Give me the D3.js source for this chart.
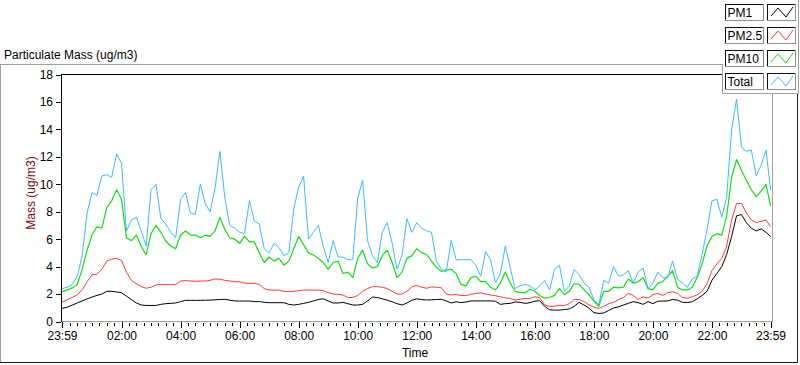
<!DOCTYPE html>
<html><head><meta charset="utf-8">
<script src="https://cdn.jsdelivr.net/npm/d3@7/dist/d3.min.js"></script>
<style>body{margin:0;background:#fff}svg{display:block;font-family:"Liberation Sans",Arial,sans-serif}</style>
</head><body><svg id="c" width="800" height="365"></svg>
<script>
// minutes after midnight (-1 = 23:59 previous day)
const times = [-1,10,20,30,40,50,60,70,80,90,100,110,120,130,140,150,160,170,180,190,200,210,220,230,240,250,260,270,280,290,300,310,320,330,340,350,
360,370,380,390,400,410,420,430,440,450,460,470,480,490,500,510,520,530,540,550,560,570,580,590,600,610,620,630,640,650,660,670,680,690,700,
710,720,730,740,750,760,770,780,790,800,810,820,830,840,850,860,870,880,890,900,910,920,930,940,950,960,970,980,990,1000,1010,1020,1030,1040,1050,1060,1070,
1080,1090,1100,1110,1120,1130,1140,1150,1160,1170,1180,1190,1200,1210,1220,1230,1240,1250,1260,1270,1280,1290,1300,1310,1320,1330,1340,1350,1360,1370,1380,1390,1400,1410,1420,1430,1439];

const pm1 = [0.95,1.05,1.2,1.35,1.5,1.65,1.78,1.9,2.0,2.2,2.2,2.15,2.1,1.85,1.6,1.35,1.2,1.17,1.17,1.17,1.25,1.3,1.32,1.35,1.45,1.54,1.54,1.54,1.54,1.55,1.56,1.58,1.6,1.62,1.55,1.5,
1.49,1.49,1.49,1.45,1.45,1.4,1.37,1.37,1.37,1.37,1.25,1.2,1.25,1.32,1.4,1.5,1.6,1.66,1.5,1.35,1.35,1.39,1.3,1.2,1.2,1.25,1.5,1.78,1.75,1.65,1.55,1.44,1.3,1.2,1.35,
1.55,1.65,1.6,1.57,1.58,1.6,1.62,1.5,1.35,1.44,1.38,1.42,1.5,1.5,1.5,1.5,1.5,1.48,1.25,1.3,1.32,1.42,1.4,1.32,1.37,1.48,1.52,1.1,0.85,0.83,0.83,0.87,0.92,1.1,1.4,1.2,0.98,
0.65,0.59,0.62,0.8,0.98,1.07,1.2,1.32,1.45,1.37,1.25,1.45,1.3,1.48,1.49,1.5,1.6,1.56,1.4,1.38,1.44,1.65,1.9,2.2,3.0,3.5,4.0,4.9,6.2,7.7,7.8,7.2,6.8,6.6,6.75,6.5,6.2];

const pm25 = [1.41,1.6,1.75,1.95,2.3,2.9,3.4,3.44,3.8,4.4,4.55,4.6,4.45,3.6,3.0,2.75,2.55,2.42,2.5,2.66,2.7,2.7,2.68,2.7,2.95,2.98,2.95,2.93,2.95,2.95,3.0,3.1,3.08,3.0,2.95,2.9,
2.9,2.8,2.78,2.78,2.7,2.4,2.29,2.29,2.29,2.2,2.17,2.2,2.25,2.29,2.29,2.29,2.29,2.25,2.1,2.0,1.98,1.93,1.75,1.75,1.9,2.2,2.4,2.54,2.54,2.5,2.4,2.2,2.0,2.0,2.2,
2.52,2.64,2.5,2.42,2.52,2.5,2.46,2.0,1.93,1.98,1.9,1.88,1.98,2.05,2.08,2.0,1.93,1.88,1.8,1.72,1.68,1.56,1.62,1.68,1.68,1.8,1.75,1.2,1.1,1.12,1.18,1.15,1.3,1.6,1.6,1.45,1.22,
1.05,0.95,1.1,1.3,1.4,1.6,1.75,2.05,1.9,1.6,1.8,1.7,1.95,2.05,1.9,2.1,2.17,2.05,1.75,1.7,1.8,1.95,2.2,2.75,3.7,4.2,4.6,5.5,7.4,8.6,8.6,7.9,7.4,7.2,7.3,7.4,6.9];

const pm10 = [2.17,2.3,2.45,2.7,3.8,5.2,6.3,6.9,6.8,8.3,8.8,9.6,8.9,6.1,5.9,6.3,5.5,4.85,6.4,7.0,6.5,5.85,5.5,5.3,6.3,6.6,6.3,6.3,6.1,6.3,6.2,6.6,7.6,6.7,6.1,6.0,
5.7,6.2,5.8,5.8,5.0,4.3,4.7,4.4,4.6,4.1,4.4,5.3,6.2,5.6,5.0,4.85,4.6,4.3,3.8,4.3,4.4,3.5,3.6,3.2,4.6,5.2,4.2,3.9,4.0,4.8,5.2,4.3,3.2,3.6,4.6,
4.8,5.3,5.0,4.9,4.4,3.95,3.65,3.76,3.8,3.5,2.7,2.6,3.2,3.3,2.9,2.9,2.5,2.3,2.8,3.6,2.8,2.2,2.1,2.1,2.35,2.2,1.9,1.7,1.75,1.9,2.4,1.95,2.2,2.75,2.7,2.3,1.95,
1.5,1.1,2.2,2.2,2.5,2.45,2.5,3.1,2.8,2.9,3.2,2.4,2.3,2.8,2.9,3.3,3.7,2.5,2.3,2.3,2.5,3.2,4.2,5.5,6.2,6.4,6.3,7.7,10.5,11.8,11.0,10.3,9.6,9.1,9.5,10.0,8.4];

const total = [2.4,2.5,2.7,3.3,4.8,7.9,9.4,9.2,10.6,10.7,10.5,12.2,11.5,6.6,7.4,7.6,6.6,5.5,9.6,10.0,7.5,7.1,6.5,6.1,8.9,9.4,7.9,7.8,10.0,8.6,8.0,9.7,12.4,9.0,7.0,6.8,
6.5,6.4,8.8,7.3,7.1,5.3,5.0,5.7,5.4,4.8,5.0,8.2,9.8,10.6,6.0,6.5,7.0,5.5,4.3,5.9,4.7,4.7,4.5,4.5,9.0,10.3,5.9,4.8,4.3,6.5,7.2,5.7,3.8,4.8,7.5,
6.5,7.2,6.8,6.6,6.5,4.4,3.8,3.6,5.9,4.5,4.5,4.5,4.5,4.1,3.3,5.1,4.5,2.8,3.5,5.5,3.9,2.4,2.6,2.7,2.6,2.3,2.6,3.0,2.3,3.8,4.1,2.2,2.6,3.8,3.4,2.8,2.5,
1.6,1.2,3.0,2.8,4.0,3.3,3.4,3.7,2.8,3.6,3.9,2.4,2.8,3.6,3.2,3.2,4.4,3.1,2.8,2.5,3.1,3.3,4.9,6.7,8.8,8.9,7.6,9.1,14.0,16.2,12.7,12.4,12.5,10.6,11.4,12.5,9.6];

const seriesNames = ["PM1", "PM2.5", "PM10", "Total"];
const seriesValues = [pm1, pm25, pm10, total];
const seriesColors = ["#000000", "#ff3a3a", "#10e010", "#3cbaff"];

const xTickMinutes = [-1, 120, 240, 360, 480, 600, 720, 840, 960, 1080, 1200, 1320, 1439];
const xTickLabels = ["23:59", "02:00", "04:00", "06:00", "08:00", "10:00", "12:00", "14:00", "16:00", "18:00", "20:00", "22:00", "23:59"];
const yTicks = [0, 2, 4, 6, 8, 10, 12, 14, 16, 18];

const svg = d3.select("#c");
const L = 62, R = 772, T = 74.5, B = 321.5;
const x = d3.scaleLinear().domain([-1, 1439]).range([L, 770.5]);
const y = d3.scaleLinear().domain([0, 18]).range([B, T]);

// outer chart frame
const frame = svg.append("g").attr("shape-rendering", "crispEdges");
frame.append("line").attr("x1", 0).attr("x2", 722).attr("y1", 64.5).attr("y2", 64.5).attr("stroke", "#a0a0a0");
frame.append("line").attr("x1", 0.5).attr("x2", 0.5).attr("y1", 64).attr("y2", 363).attr("stroke", "#a0a0a0");
frame.append("line").attr("x1", 0).attr("x2", 798).attr("y1", 362.5).attr("y2", 362.5).attr("stroke", "#202020");
frame.append("line").attr("x1", 797.5).attr("x2", 797.5).attr("y1", 93).attr("y2", 363).attr("stroke", "#202020");

// title
svg.append("text").attr("x", 4).attr("y", 59).attr("font-size", 12).attr("fill", "#000").text("Particulate Mass (ug/m3)");

// plot background
svg.append("rect").attr("x", L).attr("y", T).attr("width", R - L).attr("height", B - T).attr("fill", "#fff");

// lines
const clipId = "plotclip";
svg.append("clipPath").attr("id", clipId).append("rect").attr("x", L).attr("y", T).attr("width", R - L).attr("height", B - T);
const gLines = svg.append("g").attr("clip-path", `url(#${clipId})`);
const line = d3.line().x(d => x(d[0])).y(d => y(d[1]));
seriesValues.forEach((vals, i) => {
  gLines.append("path")
    .datum(times.map((t, k) => [t, vals[k]]))
    .attr("fill", "none").attr("stroke", seriesColors[i]).attr("stroke-width", i === 2 ? 1.2 : 1)
    .attr("stroke-linejoin", "round").attr("d", line);
});

// plot frame: top/left black, right/bottom gray
const pf = svg.append("g").attr("shape-rendering", "crispEdges");
pf.append("line").attr("x1", L).attr("x2", R).attr("y1", 74.5).attr("y2", 74.5).attr("stroke", "#000");
pf.append("line").attr("x1", R + 0.5).attr("x2", R + 0.5).attr("y1", 74).attr("y2", 322).attr("stroke", "#a0a0a0");
pf.append("line").attr("x1", L).attr("x2", R + 1).attr("y1", 321.5).attr("y2", 321.5).attr("stroke", "#a0a0a0");
pf.append("line").attr("x1", L - 0.5).attr("x2", L - 0.5).attr("y1", 74).attr("y2", 322).attr("stroke", "#000");

// y axis
const yAxis = d3.axisLeft(y).tickValues(yTicks).tickSize(5).tickPadding(3).tickFormat(d3.format("d"));
const gy = svg.append("g").attr("transform", `translate(${L - 1},0)`).call(yAxis);
gy.select(".domain").remove();
gy.selectAll(".tick line").attr("stroke", "#000").attr("shape-rendering", "crispEdges");
gy.selectAll(".tick text").attr("font-size", 12).attr("fill", "#000").attr("font-family", '"Liberation Sans",Arial,sans-serif');

// x axis (major)
const xAxis = d3.axisBottom(x).tickValues(xTickMinutes).tickSize(6).tickPadding(4)
  .tickFormat((d, i) => xTickLabels[i]);
const gx = svg.append("g").attr("transform", `translate(0,${B})`).call(xAxis);
gx.select(".domain").remove();
gx.selectAll(".tick line").attr("stroke", "#000").attr("shape-rendering", "crispEdges");
gx.selectAll(".tick text").attr("font-size", 12).attr("fill", "#000").attr("font-family", '"Liberation Sans",Arial,sans-serif');

// x minor ticks every 15 minutes
const minor = d3.range(15, 1440, 15).filter(m => m % 120 !== 0);
const xMinor = d3.axisBottom(x).tickValues(minor).tickSize(3).tickFormat("");
const gxm = svg.append("g").attr("transform", `translate(0,${B + 1})`).call(xMinor);
gxm.select(".domain").remove();
gxm.selectAll(".tick line").attr("stroke", "#000").attr("shape-rendering", "crispEdges");

// axis titles
svg.append("text").attr("x", 415).attr("y", 357).attr("text-anchor", "middle").attr("font-size", 12).attr("fill", "#000").text("Time");
svg.append("text").attr("transform", `translate(35,${(T + B) / 2 - 5}) rotate(-90)`).attr("text-anchor", "middle")
  .attr("font-size", 12).attr("fill", "#7a0c0c").text("Mass (ug/m3)");

// legend
const lg = svg.append("g").attr("shape-rendering", "crispEdges");
lg.append("rect").attr("x", 722).attr("y", 0).attr("width", 77).attr("height", 94).attr("fill", "#fff");
lg.append("line").attr("x1", 722.5).attr("x2", 722.5).attr("y1", 64).attr("y2", 94).attr("stroke", "#a0a0a0");
lg.append("line").attr("x1", 722).attr("x2", 799).attr("y1", 93.5).attr("y2", 93.5).attr("stroke", "#a0a0a0");
lg.append("line").attr("x1", 798.5).attr("x2", 798.5).attr("y1", 0).attr("y2", 94).attr("stroke", "#a0a0a0");

function sunkenBox(g, bx, by, w, h) {
  g.append("rect").attr("x", bx).attr("y", by).attr("width", w).attr("height", h).attr("fill", "#fff");
  const s = g.append("g").attr("shape-rendering", "crispEdges");
  s.append("line").attr("x1", bx).attr("x2", bx + w).attr("y1", by + 0.5).attr("y2", by + 0.5).attr("stroke", "#101010");
  s.append("line").attr("x1", bx + 0.5).attr("x2", bx + 0.5).attr("y1", by).attr("y2", by + h).attr("stroke", "#101010");
  s.append("line").attr("x1", bx).attr("x2", bx + w).attr("y1", by + h - 0.5).attr("y2", by + h - 0.5).attr("stroke", "#909090");
  s.append("line").attr("x1", bx + w - 0.5).attr("x2", bx + w - 0.5).attr("y1", by).attr("y2", by + h).attr("stroke", "#909090");
}

seriesNames.forEach((name, i) => {
  const ry = Math.round(4 + i * 22.9);
  const row = svg.append("g").attr("transform", `translate(0,${ry})`);
  sunkenBox(row, 725, 0, 39, 17);
  row.append("text").attr("x", 727.5).attr("y", 13).attr("font-size", 12).attr("fill", "#000").text(name);
  sunkenBox(row, 767, 0, 29, 17);
  row.append("polyline").attr("points", "771,12 778,4 786,13 793,3")
    .attr("fill", "none").attr("stroke", seriesColors[i]).attr("stroke-width", 1);
});
</script></body></html>
